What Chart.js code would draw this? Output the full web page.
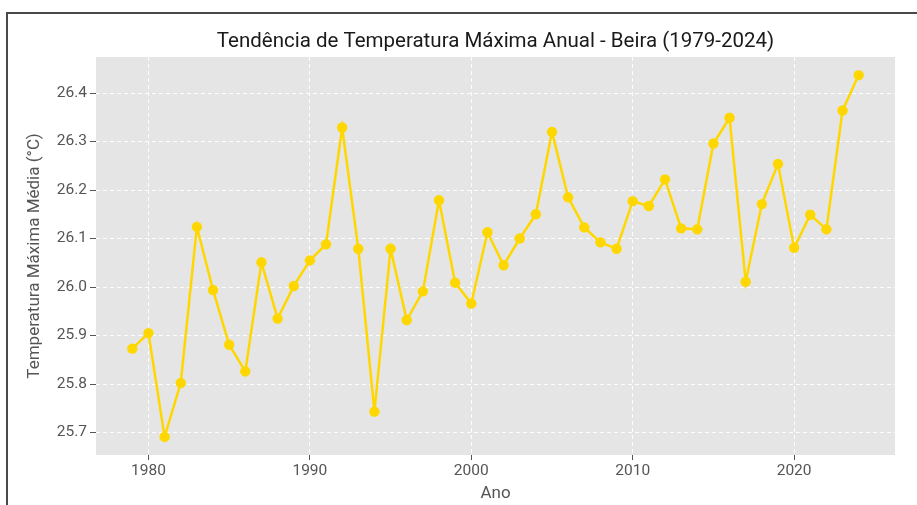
<!DOCTYPE html>
<html>
<head>
<meta charset="utf-8">
<script src="https://cdn.jsdelivr.net/npm/chart.js@4.4.1/dist/chart.umd.min.js"></script>
<style>
  html, body { margin: 0; padding: 0; background: #fff; }
  #wrap { position: relative; width: 917px; height: 505px; }
  #frame {
    position: absolute; left: 6px; top: 12px; right: -4px; bottom: -4px;
    border-top: 2px solid #4a4a4a; border-left: 2px solid #4a4a4a;
    pointer-events: none;
  }
</style>
</head>
<body>
<div id="wrap">
  <canvas id="mychart" width="917" height="505"></canvas>
  <div id="frame"></div>
</div>
<script>
// annual mean of daily max temperature, Beira
let years = [
  1979, 1980, 1981, 1982, 1983, 1984, 1985, 1986, 1987, 1988,
  1989, 1990, 1991, 1992, 1993, 1994, 1995, 1996, 1997, 1998,
  1999, 2000, 2001, 2002, 2003, 2004, 2005, 2006, 2007, 2008,
  2009, 2010, 2011, 2012, 2013, 2014, 2015, 2016, 2017, 2018,
  2019, 2020, 2021, 2022, 2023, 2024,
];
let tmax = [
  25.873, 25.905, 25.691, 25.802, 26.124, 25.994, 25.881, 25.826, 26.051, 25.935,
  26.002, 26.055, 26.088, 26.329, 26.079, 25.743, 26.079, 25.932, 25.991, 26.179,
  26.009, 25.966, 26.113, 26.045, 26.100, 26.150, 26.320, 26.185, 26.123, 26.092,
  26.079, 26.177, 26.167, 26.222, 26.121, 26.119, 26.296, 26.349, 26.011, 26.171,
  26.254, 26.081, 26.149, 26.119, 26.364, 26.437,
];
let xTicks = [1980, 1990, 2000, 2010, 2020];
let yTicks = [25.7, 25.8, 25.9, 26.0, 26.1, 26.2, 26.3, 26.4];

let fontFamily = "Roboto, 'Open Sans', sans-serif";
let lineColor = "#FFD700";

// grey panel behind the plot
const panelBg = {
  id: "panelBg",
  beforeDraw(chart) {
    let a = chart.chartArea;
    let ctx = chart.ctx;
    ctx.save();
    ctx.fillStyle = "#e5e5e5";
    ctx.fillRect(a.left, a.top, a.right - a.left, a.bottom - a.top);
    ctx.restore();
  },
};

let points = years.map((y, i) => ({ x: y, y: tmax[i] }));

// 5% margin around the data, like the usual plotting defaults
let xPad = (years[years.length - 1] - years[0]) * 0.05;
let yMin = Math.min(...tmax), yMax = Math.max(...tmax);
let yPad = (yMax - yMin) * 0.05;

const config = {
  type: "line",
  data: {
    datasets: [
      {
        label: "Temperatura Máxima",
        data: points,
        borderColor: lineColor,
        backgroundColor: lineColor,
        borderWidth: 2.5,
        pointRadius: 5.2,
        pointBorderWidth: 0,
        pointBackgroundColor: lineColor,
        tension: 0,
      },
    ],
  },
  options: {
    responsive: false,
    animation: false,
    layout: { padding: { top: 30, right: 22, bottom: 0, left: 0 } },
    plugins: {
      legend: { display: false },
      tooltip: { enabled: false },
      title: {
        display: true,
        fullSize: false, // center over the plot, not the whole canvas
        text: "Tendência de Temperatura Máxima Anual - Beira (1979-2024)",
        color: "#1a1a1a",
        font: { family: fontFamily, size: 20.5, weight: "normal" },
        padding: { top: 0, bottom: 2.4 },
      },
    },
    scales: {
      x: {
        type: "linear",
        min: years[0] - xPad,
        max: years[years.length - 1] + xPad,
        afterFit: (s) => { s.height = 50; },
        afterBuildTicks: (s) => { s.ticks = xTicks.map((v) => ({ value: v })); },
        ticks: {
          callback: (v) => String(v),
          color: "#555",
          font: { family: fontFamily, size: 15.5 },
          padding: 2,
          maxRotation: 0,
        },
        grid: {
          color: "rgba(255,255,255,0.9)",
          lineWidth: 1,
          tickColor: "#555",
          tickLength: 5,
          tickBorderDash: [],
        },
        border: { display: false, dash: [4, 3] },
        title: {
          display: true,
          text: "Ano",
          color: "#555",
          font: { family: fontFamily, size: 17 },
          padding: { top: 0, bottom: 1 },
        },
      },
      y: {
        min: yMin - yPad,
        max: yMax + yPad,
        afterFit: (s) => { s.width = 96; },
        afterBuildTicks: (s) => { s.ticks = yTicks.map((v) => ({ value: v })); },
        ticks: {
          callback: (v) => v.toFixed(1),
          color: "#555",
          font: { family: fontFamily, size: 15.5 },
          padding: 3,
        },
        grid: {
          color: "rgba(255,255,255,0.9)",
          lineWidth: 1,
          tickColor: "#555",
          tickLength: 6,
          tickBorderDash: [],
        },
        border: { display: false, dash: [4, 3] },
        title: {
          display: true,
          text: "Temperatura Máxima Média (°C)",
          color: "#555",
          font: { family: fontFamily, size: 17 },
          padding: { top: 25, bottom: 0 },
        },
      },
    },
  },
  plugins: [panelBg],
};

let tempChart = new Chart(document.getElementById("mychart"), config);
</script>
</body>
</html>
